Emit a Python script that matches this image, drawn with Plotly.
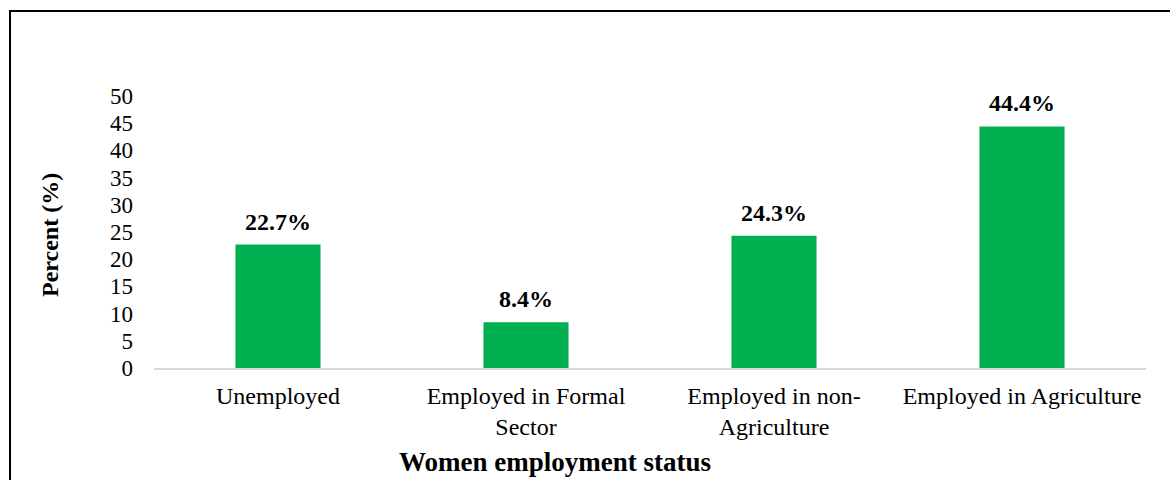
import plotly.graph_objects as go

categories = ["Unemployed", "Employed in Formal<br>Sector", "Employed in non-<br>Agriculture", "Employed in Agriculture"]
values = [22.7, 8.4, 24.3, 44.4]
labels = ["22.7%", "8.4%", "24.3%", "44.4%"]
y_ticks = [0, 5, 10, 15, 20, 25, 30, 35, 40, 45, 50]

W, H = 1170, 480
ML, MR, MT, MB = 154, 24, 96, 112
PW, PH = W - ML - MR, H - MT - MB
FONT = "Liberation Serif, Times New Roman, serif"

fig = go.Figure()
fig.add_trace(go.Bar(x=categories, y=values, marker=dict(color="#00B050", line=dict(width=0)),
                     width=0.343, hoverinfo="skip"))

for c, v, t in zip(categories, values, labels):
    fig.add_annotation(x=c, y=v, text="<b>%s</b>" % t, showarrow=False, yanchor="bottom",
                       yshift=8, font=dict(family=FONT, size=24, color="black"))

fig.add_annotation(xref="paper", yref="paper", x=(555 - ML) / PW, y=(368 - 462) / PH,
                   xanchor="center", yanchor="middle",
                   text="<b>Women employment status</b>", showarrow=False,
                   font=dict(family=FONT, size=27, color="black"))
fig.add_annotation(xref="paper", yref="paper", x=(50 - ML) / PW, y=(368 - 235) / PH,
                   xanchor="center", yanchor="middle",
                   text="<b>Percent (%)</b>", textangle=-90, showarrow=False,
                   font=dict(family=FONT, size=24, color="black"))

# border frame
fig.add_shape(type="rect", xref="paper", yref="paper", x0=(10 - ML) / PW, x1=(1185 - ML) / PW,
              y0=(368 - 500) / PH, y1=(368 - 11) / PH, line=dict(color="black", width=2),
              fillcolor="rgba(0,0,0,0)", layer="below")

fig.update_layout(
    width=W, height=H, margin=dict(l=ML, r=MR, t=MT, b=MB, autoexpand=False),
    plot_bgcolor="white", paper_bgcolor="white", showlegend=False,
    font=dict(family=FONT, size=23, color="black"),
    bargap=0.657,
)
fig.update_xaxes(showline=True, linecolor="#D9D9D9", linewidth=2, showgrid=False, ticks="",
                 tickfont=dict(family=FONT, size=24, color="black"), ticklabelstandoff=5)
fig.update_yaxes(range=[0, 50], tickvals=y_ticks, showgrid=False, zeroline=False, showline=False,
                 ticks="", tickfont=dict(family=FONT, size=23, color="black"), ticklabelstandoff=20)

fig.write_html("out.html")
